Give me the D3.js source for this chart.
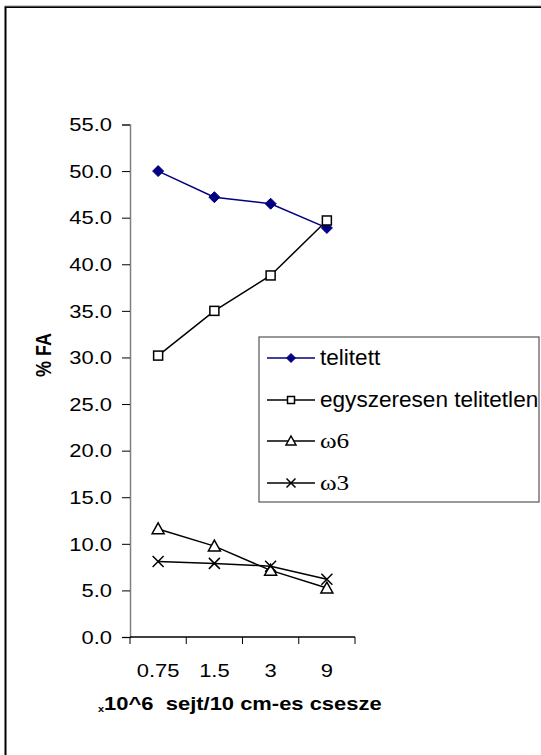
<!DOCTYPE html>
<html><head><meta charset="utf-8">
<script src="https://cdn.jsdelivr.net/npm/d3@7"></script>
<style>
html,body{margin:0;padding:0;background:#fff;}
svg{display:block;}
</style></head><body>
<svg id="c" width="541" height="755"></svg>
<script>
const categories = ["0.75","1.5","3","9"];
const seriesNames = ["telitett","egyszeresen telitetlen","ω6","ω3"];
const telitett = [50.0, 47.2, 46.5, 43.9];
const egyszeresen = [30.2, 35.0, 38.8, 44.7];
const omega6 = [11.6, 9.75, 7.15, 5.25];
const omega3 = [8.1, 7.9, 7.6, 6.2];
const yTicks = [0,5,10,15,20,25,30,35,40,45,50,55];

const SANS = "'Liberation Sans',Arial,sans-serif";
const SERIF = "'Liberation Serif','Times New Roman',serif";
const SX = 1.22; // horizontal stretch of the original picture

const series = [
  {name: seriesNames[0], values: telitett, color: "#000080", marker: "diamond"},
  {name: seriesNames[1], values: egyszeresen, color: "#000000", marker: "square"},
  {name: seriesNames[2], values: omega6, color: "#000000", marker: "triangle"},
  {name: seriesNames[3], values: omega3, color: "#000000", marker: "cross"}
];

const svg = d3.select("#c");
// outer frame (cropped at right/bottom)
svg.append("rect").attr("x",5.5).attr("y",7).attr("width",600).attr("height",800)
  .attr("fill","none").attr("stroke","#000").attr("stroke-width",2);
svg.append("line").attr("x1",5).attr("x2",541).attr("y1",6).attr("y2",6).attr("stroke","#999").attr("stroke-width",1);

const x = d3.scaleBand().domain(categories).range([130,355]);
const y = d3.scaleLinear().domain([0,55]).range([637,124.5]);

// y axis
const ya = svg.append("g").attr("transform","translate(130,0)")
  .call(d3.axisLeft(y).tickValues(yTicks).tickFormat(d3.format(".1f")).tickSize(8));
ya.select(".domain").attr("stroke","#808080").attr("stroke-width",1.5);
ya.selectAll(".tick line").attr("stroke","#000");
ya.selectAll(".tick text").attr("font-size",18).attr("fill","#000")
  .style("font-family",SANS)
  .attr("transform",`scale(${SX},1)`).attr("x",-18/SX).attr("dy","0.35em");

// x axis
const xa = svg.append("g").attr("transform","translate(0,637)")
  .call(d3.axisBottom(x).tickSize(0).tickFormat(d=>d));
xa.select(".domain").remove();
xa.append("line").attr("x1",130).attr("x2",355).attr("stroke","#000").attr("stroke-width",1.5);
const bounds = [130].concat(categories.map(c=>x(c)+x.bandwidth()));
xa.selectAll(".btick").data(bounds).enter().append("line").attr("class","btick")
  .attr("x1",d=>d).attr("x2",d=>d).attr("y1",0).attr("y2",7).attr("stroke","#000");
xa.selectAll(".tick text").attr("font-size",18).attr("fill","#000").attr("dy",0).attr("y",40).attr("x",0)
  .style("font-family",SANS)
  .attr("transform",`scale(${SX},1)`);

// axis titles
svg.append("text").attr("transform",`translate(51,355) scale(${SX},1) rotate(-90)`).attr("text-anchor","middle")
  .attr("font-size",18).attr("font-weight","bold").style("font-family",SANS).text("% FA");
const xt = svg.append("text").attr("transform",`translate(98,710) scale(${SX},1)`)
  .attr("font-size",18).attr("font-weight","bold").style("font-family",SANS);
xt.append("tspan").attr("font-size",9).attr("dy",2).text("x");
xt.append("tspan").attr("dy",-2).text("10^6\u00A0 sejt/10 cm-es csesze");

// lines
const line = d3.line().x((d,i)=>x(categories[i])+x.bandwidth()/2).y(d=>y(d));
function drawMarker(g, type, cx, cy, s, color){
  if(type==="diamond"){
    g.append("path").attr("d",`M${cx},${cy-s}L${cx+s},${cy}L${cx},${cy+s}L${cx-s},${cy}Z`).attr("fill",color).attr("stroke",color);
  } else if(type==="square"){
    g.append("rect").attr("x",cx-s).attr("y",cy-s).attr("width",2*s).attr("height",2*s).attr("fill","#fff").attr("stroke",color).attr("stroke-width",1.5);
  } else if(type==="triangle"){
    g.append("path").attr("d",`M${cx},${cy-s}L${cx+s},${cy+s*0.8}L${cx-s},${cy+s*0.8}Z`).attr("fill","#fff").attr("stroke",color).attr("stroke-width",1.5);
  } else {
    g.append("path").attr("d",`M${cx-s},${cy-s}L${cx+s},${cy+s}M${cx-s},${cy+s}L${cx+s},${cy-s}`).attr("stroke",color).attr("stroke-width",1.5);
  }
}
const sizes = {diamond:5.5, square:4.5, triangle:6, cross:5.5};
series.forEach(s=>{
  svg.append("path").datum(s.values).attr("d",line).attr("fill","none").attr("stroke",s.color).attr("stroke-width",1.5);
});
series.forEach(s=>{
  const g = svg.append("g");
  s.values.forEach((v,i)=>drawMarker(g,s.marker,x(categories[i])+x.bandwidth()/2,y(v),sizes[s.marker],s.color));
});

// legend
const lg = svg.append("g");
lg.append("rect").attr("x",259).attr("y",337).attr("width",280).attr("height",165).attr("fill","#fff").attr("stroke","#555").attr("stroke-width",1.2);
const legY = [358,400,441,483];
const legSizes = {diamond:4.5, square:3.5, triangle:5, cross:4.5};
series.forEach((s,i)=>{
  lg.append("line").attr("x1",267).attr("x2",315).attr("y1",legY[i]).attr("y2",legY[i]).attr("stroke",s.color).attr("stroke-width",1.5);
  drawMarker(lg,s.marker,291,legY[i],legSizes[s.marker],s.color);
  const serif = i>=2;
  lg.append("text").attr("transform",`translate(320,${legY[i]+7}) scale(${serif?1.2:1.05},1)`)
    .attr("font-size",serif?21:21.5)
    .style("font-family",serif?SERIF:SANS)
    .text(s.name);
});
</script></body></html>
